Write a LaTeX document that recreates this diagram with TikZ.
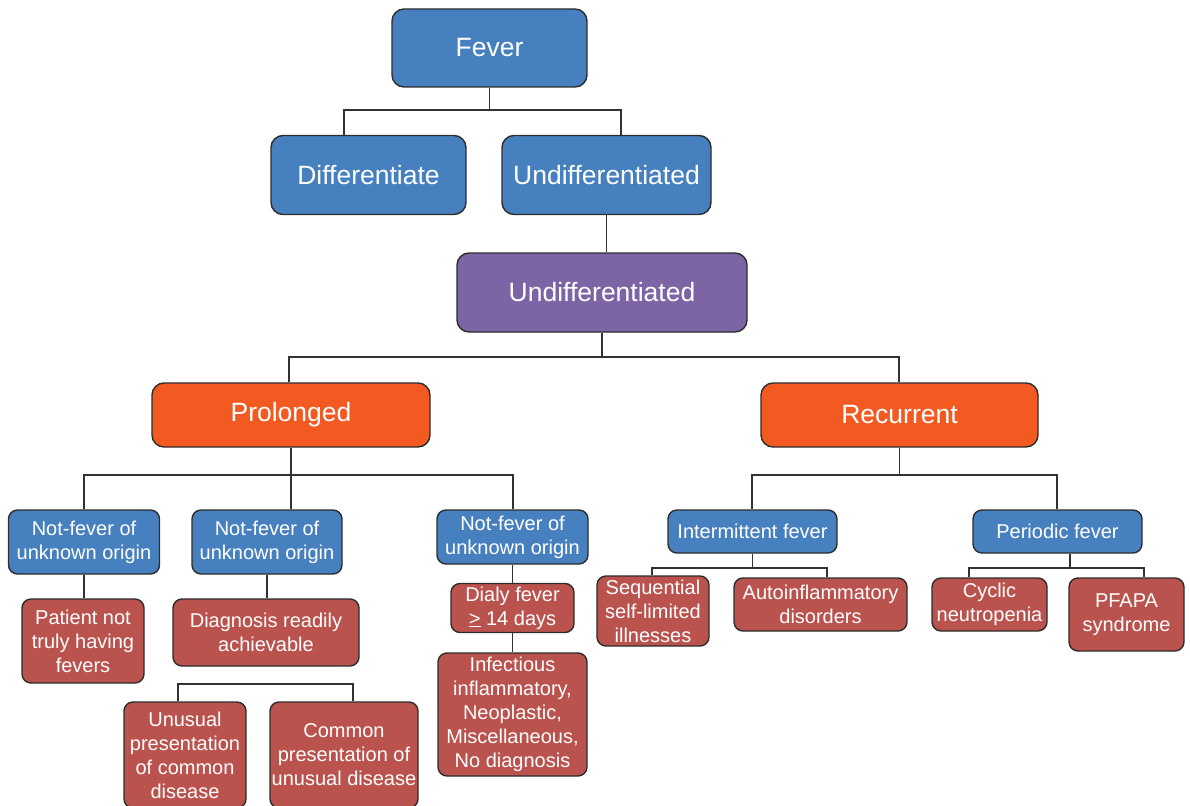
\documentclass[tikz,border=0pt]{standalone}
\usepackage{fontspec}
\setmainfont{Liberation Sans}
\definecolor{cblue}{RGB}{71,128,191}
\definecolor{cpurple}{RGB}{125,101,165}
\definecolor{corange}{RGB}{242,90,34}
\definecolor{cred}{RGB}{186,82,78}
\definecolor{bordc}{RGB}{45,45,45}
\definecolor{linec}{RGB}{50,50,50}
\tikzset{
  box/.style={draw=bordc, line width=1.4pt, rounded corners=12pt, text=white, inner sep=0pt, align=center},
  bigbox/.style={box, font=\fontsize{26.5}{30}\selectfont},
  smbox/.style={box, rounded corners=9pt, font=\fontsize{20}{24}\selectfont},
  fb/.style={fill=cblue},
  fp/.style={fill=cpurple},
  fo/.style={fill=corange},
  fr/.style={fill=cred},
  wh/.style 2 args={minimum width=#1pt, minimum height=#2pt},
  conn/.style={draw=linec, line width=1.3pt}
}
\begin{document}
\begin{tikzpicture}[x=1pt,y=-1pt]
\useasboundingbox (0,0) rectangle (1190,805);
\clip (0,0) rectangle (1190,805);
% top level
\node[bigbox,fb,wh={195}{78}] (fever) at (489.5,48) {Fever};
\node[bigbox,fb,wh={195}{79}] (diff) at (368.5,175) {Differentiate};
\node[bigbox,fb,wh={209}{79}] (undiff) at (606.5,175) {Undifferentiated};
\node[bigbox,fp,wh={290}{79}] (purple) at (602,292.5) {Undifferentiated};
\node[bigbox,fo,wh={278}{64}] (prol) at (291,415) {Prolonged};
\node[bigbox,fo,wh={277}{64}] (recur) at (899.5,415) {Recurrent};
% second level
\node[smbox,fb,wh={151}{64}] (n1) at (84,542) {Not-fever of\\unknown origin};
\node[smbox,fb,wh={150}{64}] (n2) at (267,542) {Not-fever of\\unknown origin};
\node[smbox,fb,wh={151}{54}] (n3) at (512.5,537) {Not-fever of\\unknown origin};
\node[smbox,fb,wh={169}{43}] (inter) at (752.5,531.5) {Intermittent fever};
\node[smbox,fb,wh={169}{43}] (peri) at (1057.5,531.5) {Periodic fever};
% leaves
\node[smbox,fr,wh={122}{84}] (pat) at (83,641) {Patient not\\truly having\\fevers};
\node[smbox,fr,wh={186}{67}] (diag) at (266,632.5) {Diagnosis readily\\achievable};
\node[smbox,fr,wh={122}{106}] (unus) at (185,755) {Unusual\\presentation\\of common\\disease};
\node[smbox,fr,wh={148}{106}] (comm) at (344,755) {Common\\presentation of\\unusual disease};
\node[smbox,fr,wh={123}{49}] (dialy) at (512.5,608) {Dialy fever\\\underline{>} 14 days};
\node[smbox,fr,wh={149}{123}] (inf) at (512.5,714.5) {Infectious\\inflammatory,\\Neoplastic,\\Miscellaneous,\\No diagnosis};
\node[smbox,fr,wh={112}{70}] (seq) at (653,611) {Sequential\\self-limited\\illnesses};
\node[smbox,fr,wh={173}{53}] (auto) at (820.5,604.5) {Autoinflammatory\\disorders};
\node[smbox,fr,wh={115}{53}] (cyc) at (989.5,604.5) {Cyclic\\neutropenia};
\node[smbox,fr,wh={115}{73}] (pfapa) at (1126.5,614.5) {PFAPA\\syndrome};
% junction coordinates
\coordinate (a1) at (344,110); \coordinate (a2) at (621,110);
\coordinate (b1) at (289,357); \coordinate (b2) at (899,357);
\coordinate (c1) at (84,475);  \coordinate (c3) at (513,475);
\coordinate (d1) at (752,475); \coordinate (d2) at (1057,475);
\coordinate (e1) at (178,684); \coordinate (e2) at (353,684);
\coordinate (f1) at (652,568); \coordinate (f2) at (827,568);
\coordinate (g0) at (1070,568);
\coordinate (g1) at (969,568); \coordinate (g2) at (1144,568);
% connectors
\draw[conn] (fever.south) -- (fever.south |- a1);
\draw[conn] (diff.north -| a1) -- (a1) -- (a2) -- (undiff.north -| a2);
\draw[conn] (undiff.south) -- (undiff.south |- purple.north);
\draw[conn] (purple.south) -- (purple.south |- b1);
\draw[conn] (prol.north -| b1) -- (b1) -- (b2) -- (recur.north -| b2);
\draw[conn] (prol.south) -- (prol.south |- n2.north);
\draw[conn] (n1.north -| c1) -- (c1) -- (c3) -- (n3.north -| c3);
\draw[conn] (recur.south) -- (recur.south |- d1);
\draw[conn] (inter.north -| d1) -- (d1) -- (d2) -- (peri.north -| d2);
\draw[conn] (n1.south) -- (n1.south |- pat.north);
\draw[conn] (n2.south) -- (n2.south |- diag.north);
\draw[conn] (unus.north -| e1) -- (e1) -- (e2) -- (comm.north -| e2);
\draw[conn] (n3.south) -- (n3.south |- dialy.north);
\draw[conn] (dialy.south) -- (dialy.south |- inf.north);
\draw[conn] (inter.south) -- (inter.south |- f1);
\draw[conn] (seq.north -| f1) -- (f1) -- (f2) -- (auto.north -| f2);
\draw[conn] (peri.south -| g0) -- (g0);
\draw[conn] (cyc.north -| g1) -- (g1) -- (g2) -- (pfapa.north -| g2);
\end{tikzpicture}
\end{document}
